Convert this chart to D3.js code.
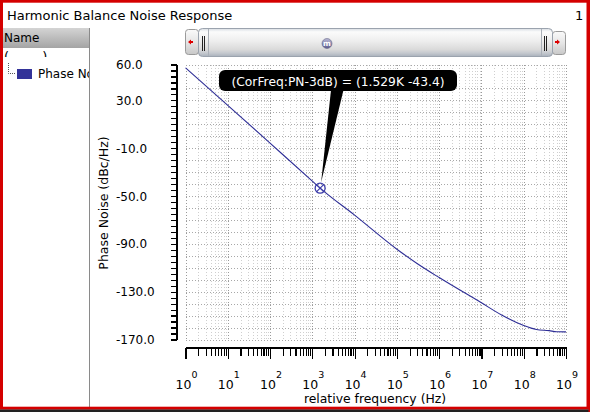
<!DOCTYPE html>
<html><head><meta charset="utf-8">
<script src="https://cdn.jsdelivr.net/npm/d3@7"></script>
<style>
html,body{margin:0;padding:0;background:#fff;}
svg{display:block;font-family:"DejaVu Sans",sans-serif;}
</style></head>
<body>
<svg id="c" width="590" height="412"></svg>
<script>
// ---- data ----
const title = "Harmonic Balance Noise Response";
const seriesName = "Phase Noise";
const freqs = [1, 10, 100, 1e3, 1529, 1e4, 1e5, 3e5, 1e6, 1e7, 3e7, 1e8, 1.5e8, 2e8, 4e8, 6e8, 1e9];
const phaseNoise = [57.2, 25.8, -5.8, -37.5, -43.4, -66.0, -94.5, -106.4, -118.2, -139.3, -149.5, -158.3, -160.5, -161.6, -162.6, -163.5, -163.6];
const yTickLabels = [60, 30, -10, -50, -90, -130, -170];
const yGridValues = [-160,-150,-140,-130,-120,-110,-100,-90,-80,-70,-60,-50,-40,-30,-20,-10,0,10,20,30,40];
const xDecades = [0,1,2,3,4,5,6,7,8,9];
const markerFreq = 1529, markerVal = -43.4;
const markerText = "(CorFreq:PN-3dB) = (1.529K -43.4)";
const xLabel = "relative frequency (Hz)";
const yLabel = "Phase Noise (dBc/Hz)";

const svg = d3.select("#c");
const defs = svg.append("defs");

function grad(id, stops){
  const g = defs.append("linearGradient").attr("id",id).attr("x1",0).attr("y1",0).attr("x2",0).attr("y2",1);
  stops.forEach(s=>g.append("stop").attr("offset",s[0]).attr("stop-color",s[1]));
}
grad("hdr",[[0,"#d4d4d4"],[1,"#a4a4a4"]]);
grad("btn",[[0,"#fafafa"],[0.5,"#e6e6e6"],[1,"#c8c8c8"]]);
grad("thumb",[[0,"#d8dde3"],[0.12,"#fbfbfb"],[0.45,"#eeeeee"],[0.75,"#dadada"],[0.88,"#c4c8ce"],[1,"#a9b1bc"]]);
grad("mball",[[0,"#b9b9d6"],[1,"#5c5c8e"]]);

// ---- frame ----
svg.append("rect").attr("x",0).attr("y",0).attr("width",590).attr("height",412).attr("fill","#fff");
svg.append("text").attr("x",7).attr("y",20).attr("font-size",13).text(title);
svg.append("text").attr("x",575).attr("y",20).attr("font-size",13).text("1");

// ---- left panel ----
svg.append("rect").attr("x",3).attr("y",28).attr("width",86).attr("height",20).attr("fill","url(#hdr)");
svg.append("text").attr("x",4).attr("y",41.5).attr("font-size",12).text("Name");
svg.append("line").attr("x1",89.5).attr("x2",89.5).attr("y1",28).attr("y2",407).attr("stroke","#8a8a8a");
const clipP = defs.append("clipPath").attr("id","panelclip");
clipP.append("rect").attr("x",3).attr("y",49).attr("width",86).attr("height",358);
const pg = svg.append("g").attr("clip-path","url(#panelclip)");
const clipR = defs.append("clipPath").attr("id","rowclip");
clipR.append("rect").attr("x",3).attr("y",50).attr("width",86).attr("height",7);
svg.append("text").attr("clip-path","url(#rowclip)").attr("x",4).attr("y",61).attr("font-size",13).attr("xml:space","preserve").text("(        )");
pg.append("path").attr("d","M8.5,63 V73.5 H15").attr("fill","none").attr("stroke","#555").attr("stroke-dasharray","1,1");
pg.append("rect").attr("x",17).attr("y",69).attr("width",15).attr("height",10).attr("fill","#333399");
pg.append("text").attr("x",38).attr("y",78).attr("font-size",12).text(seriesName);

// ---- scrollbar ----
svg.append("rect").attr("x",185.5).attr("y",29.5).attr("width",13).attr("height",25).attr("rx",3).attr("fill","url(#btn)").attr("stroke","#9a9a9a");
svg.append("path").attr("d","M188,42 L191,39.5 V41 H193 V43 H191 V44.5 Z").attr("fill","#dd0000");
svg.append("rect").attr("x",552.5).attr("y",31.5).attr("width",13).attr("height",23).attr("rx",3).attr("fill","url(#btn)").attr("stroke","#9a9a9a");
svg.append("path").attr("d","M560,42 L557,39.5 V41 H555 V43 H557 V44.5 Z").attr("fill","#dd0000");
svg.append("rect").attr("x",198.5).attr("y",28.5).attr("width",354).attr("height",28).attr("rx",4).attr("fill","url(#thumb)").attr("stroke","#9ba3ae");
svg.append("line").attr("x1",208.5).attr("x2",208.5).attr("y1",29).attr("y2",56).attr("stroke","#aab0b8");
svg.append("line").attr("x1",541.5).attr("x2",541.5).attr("y1",29).attr("y2",56).attr("stroke","#aab0b8");
[202.5,204.5,544.5,546.5].forEach(x=>svg.append("line").attr("x1",x).attr("x2",x).attr("y1",36).attr("y2",51).attr("stroke","#222"));
svg.append("circle").attr("cx",327).attr("cy",43.5).attr("r",5).attr("fill","url(#mball)").attr("stroke","#6a6a8a").attr("stroke-width",0.6);
svg.append("text").attr("x",327).attr("y",46).attr("text-anchor","middle").attr("font-size",7.5).attr("font-weight","bold").attr("fill","#fff").text("m");

// ---- scales ----
const x = d3.scaleLog().domain([1,1e9]).range([185.5,566]);
const y = d3.scaleLinear().domain([-170,60]).range([339.5,64.5]);

// grid
const allLogTicks = [];
xDecades.forEach(d=>{ for(let m=1;m<=9;m++){ const v=m*Math.pow(10,d); if(v<=1e9) allLogTicks.push(v);} });
const minorTicks = allLogTicks.filter(v=>Math.abs(Math.log10(v)-Math.round(Math.log10(v)))>1e-9);
const majorTicks = xDecades.map(d=>Math.pow(10,d));
const grid = svg.append("g").attr("shape-rendering","crispEdges");
minorTicks.forEach(v=>grid.append("line").attr("x1",Math.round(x(v))+0.5).attr("x2",Math.round(x(v))+0.5).attr("y1",y(60)).attr("y2",y(-170))
  .attr("stroke","#cfcfcf").attr("stroke-dasharray","1,2"));
majorTicks.forEach(v=>grid.append("line").attr("x1",Math.round(x(v))+0.5).attr("x2",Math.round(x(v))+0.5).attr("y1",y(60)).attr("y2",y(-170))
  .attr("stroke","#9a9a9a").attr("stroke-dasharray","1,2"));
yGridValues.concat([60,-170]).forEach(v=>grid.append("line").attr("x1",x(1)).attr("x2",x(1e9)).attr("y1",Math.round(y(v))+0.5).attr("y2",Math.round(y(v))+0.5)
  .attr("stroke","#a8a8a8").attr("stroke-dasharray","1,2"));

// y axis
const yTicks5 = d3.range(-170,60.001,5);
const yAxis = d3.axisLeft(y).tickValues(yTicks5).tickSize(6).tickSizeOuter(0).tickFormat("");
const ya = svg.append("g").attr("transform","translate(176.5,0)").attr("shape-rendering","crispEdges").call(yAxis);
ya.selectAll("line,path").attr("stroke","#000").attr("stroke-width",1.2);
svg.append("g").selectAll("text").data(yTickLabels).join("text")
  .attr("x",116).attr("y",d=>y(d)+4.5).attr("font-size",12).text(d=>d.toFixed(1));

// x axis
const xa1 = svg.append("g").attr("transform","translate(0,347.5)").attr("shape-rendering","crispEdges")
  .call(d3.axisBottom(x).tickValues(minorTicks).tickSize(8).tickSizeOuter(0).tickFormat(""));
const xa2 = svg.append("g").attr("transform","translate(0,347.5)").attr("shape-rendering","crispEdges")
  .call(d3.axisBottom(x).tickValues(majorTicks).tickSize(11).tickSizeOuter(0).tickFormat(""));
[xa1,xa2].forEach(a=>a.selectAll("line,path").attr("stroke","#000").attr("stroke-width",1.2));
const xl = svg.append("g").selectAll("text").data(xDecades).join("text")
  .attr("x",d=>x(Math.pow(10,d))+1).attr("y",388.5).attr("font-size",12.5).attr("text-anchor","middle");
xl.append("tspan").text("10");
xl.append("tspan").attr("dy",-10.5).attr("font-size",9.5).text(d=>d);

svg.append("text").attr("x",375).attr("y",402.5).attr("text-anchor","middle").attr("font-size",12.4).text(xLabel);
svg.append("text").attr("transform","translate(108,203) rotate(-90)").attr("text-anchor","middle").attr("font-size",12.5).text(yLabel);

// curve
const line = d3.line().x((d,i)=>x(freqs[i])).y(d=>y(d)).curve(d3.curveMonotoneX);
svg.append("path").datum(phaseNoise).attr("d",line).attr("fill","none").attr("stroke","#2e2e96").attr("stroke-width",1.1);

// marker
const mx = x(markerFreq), my = y(markerVal);
svg.append("circle").attr("cx",mx).attr("cy",my).attr("r",5).attr("fill","none").attr("stroke","#3a3aa8").attr("stroke-width",1.3);
svg.append("path").attr("d",`M${mx-3.5},${my-3.5}L${mx+3.5},${my+3.5}M${mx+3.5},${my-3.5}L${mx-3.5},${my+3.5}`).attr("stroke","#3a3aa8").attr("stroke-width",1.1);

// annotation
svg.append("path").attr("d",`M331,90 L343.5,90 L${mx+1},${my-6} Z`).attr("fill","#000");
svg.append("rect").attr("x",219).attr("y",70).attr("width",238).attr("height",21).attr("rx",6).attr("fill","#000");
svg.append("text").attr("x",338).attr("y",85.5).attr("text-anchor","middle").attr("font-size",12.3).attr("fill","#fff").text(markerText);

// outer border
svg.append("rect").attr("x",1.5).attr("y",1.2).attr("width",586.5).attr("height",407).attr("fill","none").attr("stroke","#d40000").attr("stroke-width",3);
svg.append("rect").attr("x",0).attr("y",409.5).attr("width",590).attr("height",2.5).attr("fill","#222");
svg.append("rect").attr("x",588.5).attr("y",0).attr("width",1.5).attr("height",412).attr("fill","#d40000");
</script>
</body></html>
